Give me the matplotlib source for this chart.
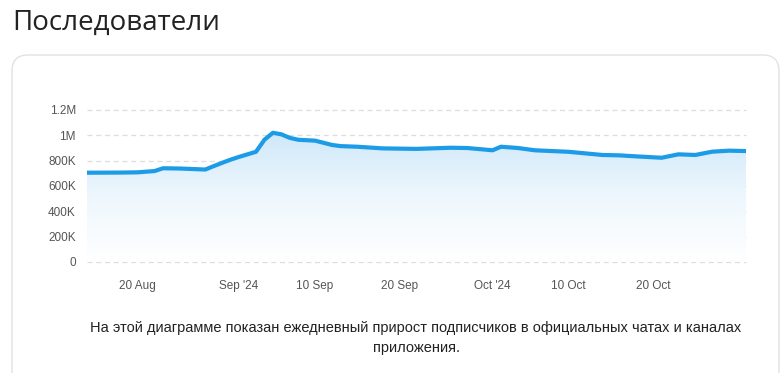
import numpy as np
import pandas as pd
import matplotlib
matplotlib.use("Agg")
import matplotlib.pyplot as plt
import matplotlib.dates as mdates
from matplotlib.patches import FancyBboxPatch
from matplotlib.transforms import IdentityTransform
from matplotlib.ticker import FixedLocator

# Данные
dates = ["2024-08-14", "2024-08-18", "2024-08-20", "2024-08-22", "2024-08-23",
         "2024-08-25", "2024-08-28", "2024-08-29", "2024-08-30", "2024-08-31",
         "2024-09-01", "2024-09-03", "2024-09-04", "2024-09-05", "2024-09-06",
         "2024-09-07", "2024-09-08", "2024-09-10", "2024-09-12", "2024-09-13",
         "2024-09-15", "2024-09-18", "2024-09-22", "2024-09-26", "2024-09-28",
         "2024-10-01", "2024-10-02", "2024-10-04", "2024-10-06", "2024-10-08",
         "2024-10-10", "2024-10-14", "2024-10-16", "2024-10-18", "2024-10-21",
         "2024-10-23", "2024-10-25", "2024-10-27", "2024-10-29", "2024-10-31"]
followers = [705e3, 706e3, 708e3, 718e3, 740e3,
             738e3, 730e3, 757e3, 783e3, 808e3,
             830e3, 870e3, 965e3, 1020e3, 1008e3,
             980e3, 965e3, 958e3, 924e3, 915e3,
             910e3, 897e3, 893e3, 902e3, 900e3,
             882e3, 910e3, 900e3, 882e3, 876e3,
             870e3, 845e3, 842e3, 834e3, 823e3,
             850e3, 845e3, 871e3, 879e3, 876e3]

y_ticks = [0, 200e3, 400e3, 600e3, 800e3, 1e6, 1.2e6]
y_labels = ["0", "200K", "400K", "600K", "800K", "1M", "1.2M"]
x_ticks = ["2024-08-20", "2024-09-01", "2024-09-10", "2024-09-20",
           "2024-10-01", "2024-10-10", "2024-10-20"]
x_labels = ["20 Aug", "Sep '24", "10 Sep", "20 Sep", "Oct '24", "10 Oct", "20 Oct"]

title = "Последователи"
note = ("На этой диаграмме показан ежедневный прирост подписчиков в официальных чатах и каналах\n"
        "приложения.")

plt.rcParams['font.family'] = ['Liberation Sans', 'DejaVu Sans']

x = mdates.date2num(pd.to_datetime(dates))
y = np.array(followers)

fig = plt.figure(figsize=(7.81, 3.73), dpi=100)

# карточка с рамкой
card = FancyBboxPatch((12, -20), 767, 338, boxstyle="round,pad=0,rounding_size=16",
                      transform=IdentityTransform(), facecolor="white",
                      edgecolor="#e2e2e2", linewidth=1.0, zorder=-5)
fig.patches.append(card)

fig.text(12 / 781, 1 - 23 / 373, title, fontsize=20, color="#222222",
         family=['Open Sans', 'DejaVu Sans'], va="center", ha="left")

ax = fig.add_axes([87 / 781, 111 / 373, 659 / 781, 152 / 373])
ax.set_facecolor("none")

x0 = mdates.date2num(pd.Timestamp("2024-08-14"))
x1 = mdates.date2num(pd.Timestamp("2024-10-31"))
ax.set_xlim(x0, x1)
ax.set_ylim(0, 1.2e6)

# градиентная заливка под линией
poly = ax.fill_between(x, y, 0, facecolor="none", edgecolor="none")
grad = np.linspace(0, 1, 256).reshape(-1, 1)
cmap = matplotlib.colors.LinearSegmentedColormap.from_list(
    "g", ["#ffffff", "#eef7fd", "#cfe8fa"])
img = ax.imshow(grad, extent=[x0, x1, 0, y.max()], origin="lower", aspect="auto",
                cmap=cmap, zorder=1)
path = poly.get_paths()[0]
img.set_clip_path(path, transform=ax.transData)

for t in y_ticks:
    ax.axhline(t, color="#dddddd", linewidth=0.9, linestyle=(0, (4, 3)), zorder=0.5,
               clip_on=False)

ax.plot(x, y, color="#1c9be6", linewidth=3.0, solid_joinstyle="round",
        solid_capstyle="round", zorder=3)

for s in ax.spines.values():
    s.set_visible(False)

ax.yaxis.set_major_locator(FixedLocator(y_ticks))
ax.set_yticklabels(y_labels)
ax.xaxis.set_major_locator(FixedLocator(mdates.date2num(pd.to_datetime(x_ticks))))
ax.set_xticklabels(x_labels)
ax.tick_params(axis="both", length=0, labelsize=8.5, colors="#555555")
ax.tick_params(axis="y", pad=8)
ax.tick_params(axis="x", pad=13)

fig.text(416 / 781, 1 - 338 / 373, note, fontsize=10.5, color="#222222",
         ha="center", va="center", linespacing=1.6)

fig.savefig("out.png", dpi=100)
